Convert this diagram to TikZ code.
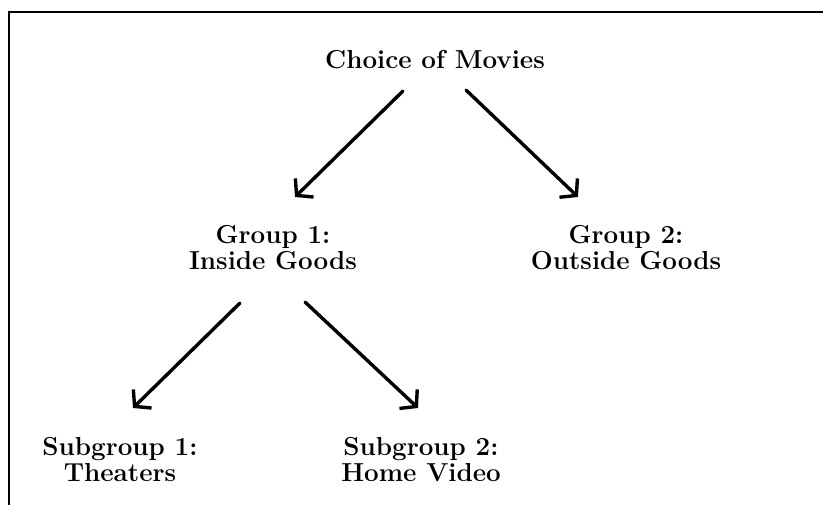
\documentclass[tikz,border=0pt]{standalone}
\usetikzlibrary{arrows.meta}
\begin{document}
\begin{tikzpicture}[x=1pt,y=-1pt,every node/.style={inner sep=0pt, outer sep=0pt, align=center, font=\fontsize{26}{26}\selectfont\bfseries},
  sketch/.style={line width=3.4pt, line cap=round, -{Straight Barb[length=11pt,width=26pt,line width=3.4pt]}}]
\useasboundingbox (0,0) rectangle (823,505);
\draw[line width=2.4pt] (9,505) -- (9,12) -- (823,12);
\node[anchor=base] (movies) at (435,69) {Choice of Movies};
\node[anchor=base] (inside) at (273,270) {Group 1:\\Inside Goods};
\node[anchor=base] (outside) at (626,270) {Group 2:\\Outside Goods};
\node[anchor=base] (theaters) at (120,481) {Subgroup 1:\\Theaters};
\node[anchor=base] (video) at (421,481) {Subgroup 2:\\Home Video};
\coordinate (m1) at (403,91);
\coordinate (m2) at (466,90);
\coordinate (i1) at (295,197);
\coordinate (o1) at (578,197);
\coordinate (i2) at (240,303);
\coordinate (i3) at (305,302);
\coordinate (t1) at (133,408);
\coordinate (v1) at (418,408);
\draw[sketch] (m1) -- (i1);
\draw[sketch] (m2) -- (o1);
\draw[sketch] (i2) -- (t1);
\draw[sketch] (i3) -- (v1);
\end{tikzpicture}
\end{document}
